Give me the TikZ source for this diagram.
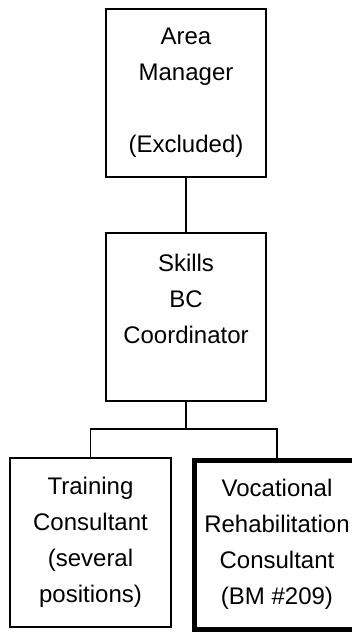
\documentclass[tikz,border=0pt]{standalone}
\usepackage{fontspec}
\setmainfont{Liberation Sans}
\begin{document}
\begin{tikzpicture}[x=1pt, y=-1pt, font=\fontsize{24}{36}\selectfont, line join=miter]
	\tikzset{post/.style={draw, line width=1.5pt, minimum width=160pt, minimum height=168pt, align=center, inner sep=0pt}}
	\tikzset{postbold/.style={post, line width=5pt, minimum width=165pt, minimum height=168.5pt}}
	\useasboundingbox (0,0) rectangle (351,632);
	\node[post] (manager) at (186,93) {Area\\Manager\\[36pt](Excluded)};
	\node[post] (coord) at (186,317) {Skills\\BC\\Coordinator\\\mbox{}};
	\node[post, minimum width=161pt, minimum height=169pt] (training) at (90.5,542.5) {Training\\Consultant\\(several\\positions)};
	\node[postbold] (voc) at (277,544.75) {Vocational\\Rehabilitation\\Consultant\\(BM \#209)};
	\coordinate (fork) at (186,429);
	\draw[line width=1.5pt] (manager.south) -- (coord.north);
	\draw[line width=1.5pt] (coord.south) -- (fork);
	\draw[line width=1.5pt] (training.north) |- (fork) -| (voc.north);
\end{tikzpicture}
\end{document}
